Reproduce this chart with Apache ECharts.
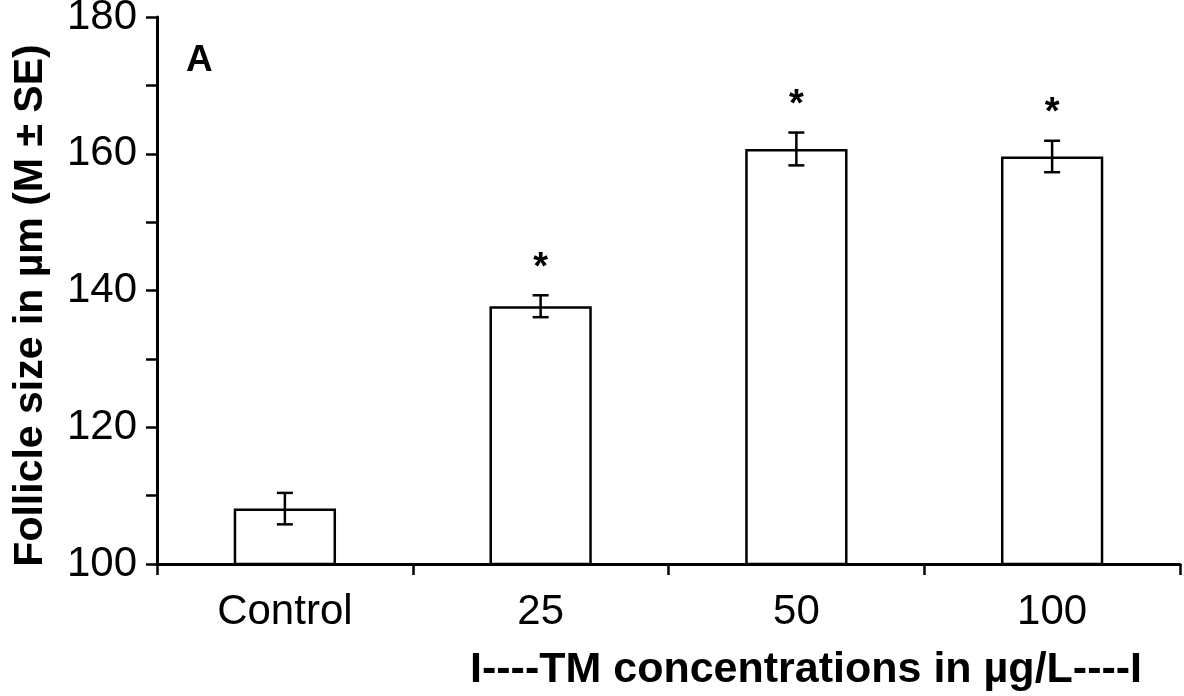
<!DOCTYPE html>
<html>
<head>
<meta charset="utf-8">
<script src="https://cdn.jsdelivr.net/npm/echarts@6/dist/echarts.min.js"></script>
<style>html,body{margin:0;padding:0;background:#fff;}#chart{width:1184px;height:696px;}</style>
</head>
<body>
<div id="chart"></div>
<script>
const categories = ['Control', '25', '50', '100'];
const means = [108.1, 137.7, 160.7, 159.6];
const errors = [2.3, 1.6, 2.4, 2.3];
const marks = ['', '*', '*', '*'];
const yTicks = [100, 120, 140, 160, 180];

const chart = echarts.init(document.getElementById('chart'));
const FONT = 'Liberation Sans, Arial, sans-serif';
const errData = categories.map((c, i) => [i, means[i], errors[i], marks[i]]);

chart.setOption({
  animation: false,
  backgroundColor: '#fff',
  grid: { left: 157, right: 4, top: 17, bottom: 132, containLabel: false, outerBoundsMode: 'none' },
  xAxis: {
    type: 'category',
    data: categories,
    axisLine: { lineStyle: { color: '#000', width: 3 } },
    axisTick: { show: true, inside: false, length: 11, lineStyle: { color: '#000', width: 2.5 } },
    axisLabel: { color: '#000', fontSize: 42, fontFamily: FONT, margin: 27 },
    splitLine: { show: false }
  },
  yAxis: {
    type: 'value',
    min: 100, max: 180, interval: 10,
    axisLine: { show: true, lineStyle: { color: '#000', width: 3 } },
    axisTick: { show: true, inside: false, length: 11, lineStyle: { color: '#000', width: 2.5 } },
    axisLabel: {
      color: '#000', fontSize: 42, fontFamily: FONT, margin: 20,
      formatter: v => (yTicks.indexOf(v) >= 0 ? String(v) : '')
    },
    splitLine: { show: false },
    name: 'Follicle size in µm (M ± SE)',
    nameLocation: 'middle',
    nameGap: 106,
    nameTextStyle: { color: '#000', fontSize: 41, fontWeight: 'bold', fontFamily: FONT, padding: [0, 30, 0, 0] }
  },
  graphic: [
    { type: 'text', left: 186, top: 42, style: { text: 'A', fill: '#000', font: 'bold 37px ' + FONT } },
    { type: 'text', left: 470, top: 649, style: { text: 'I----TM concentrations in µg/L----I', fill: '#000', font: 'bold 43px ' + FONT } }
  ],
  series: [
    {
      type: 'bar',
      data: means,
      barWidth: '40%',
      itemStyle: { color: '#fff', borderColor: '#000', borderWidth: 2.5 },
      z: 2
    },
    {
      type: 'custom',
      data: errData,
      z: 3,
      renderItem: function (params, api) {
        const x = api.value(0), m = api.value(1), e = api.value(2);
        const top = api.coord([x, m + e]);
        const bot = api.coord([x, m - e]);
        const cw = 8;
        const style = { stroke: '#000', lineWidth: 2.5 };
        const children = [
          { type: 'line', shape: { x1: top[0], y1: top[1], x2: bot[0], y2: bot[1] }, style },
          { type: 'line', shape: { x1: top[0] - cw, y1: top[1], x2: top[0] + cw, y2: top[1] }, style },
          { type: 'line', shape: { x1: bot[0] - cw, y1: bot[1], x2: bot[0] + cw, y2: bot[1] }, style }
        ];
        const mk = marks[params.dataIndex];
        if (mk) {
          children.push({
            type: 'text',
            style: { text: mk, x: top[0], y: top[1] - 27, align: 'center', verticalAlign: 'middle', fill: '#000', font: 'bold 38px ' + FONT }
          });
        }
        return { type: 'group', children };
      }
    }
  ]
});
</script>
</body>
</html>
